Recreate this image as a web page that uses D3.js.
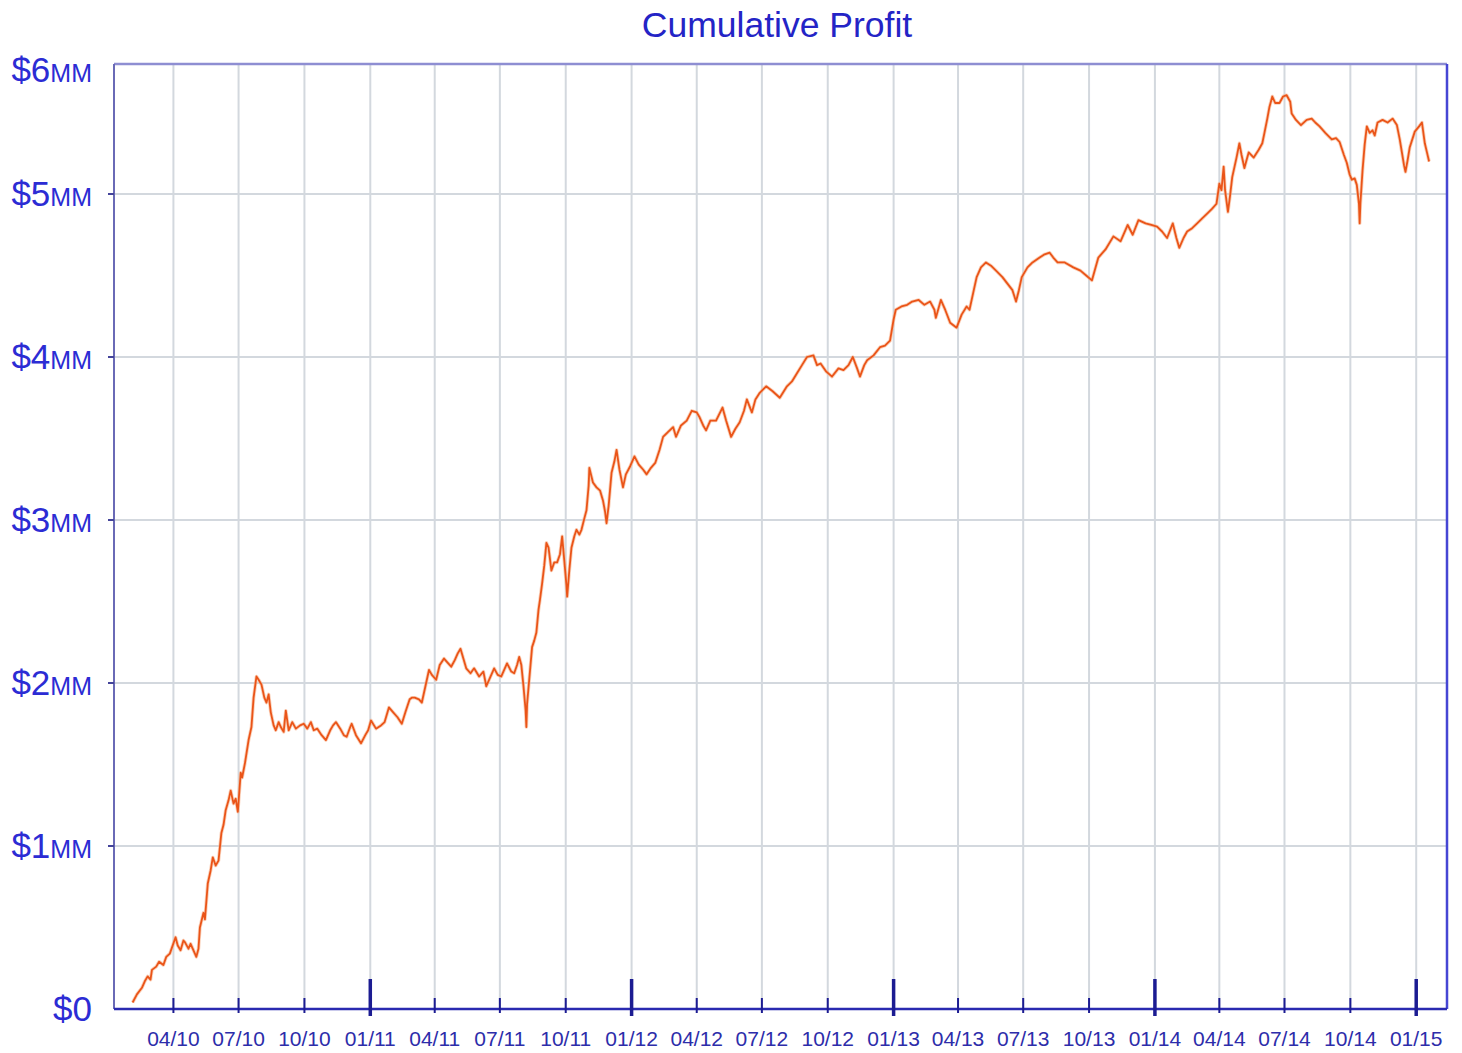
<!DOCTYPE html>
<html>
<head>
<meta charset="utf-8">
<script src="https://cdn.jsdelivr.net/npm/d3@7"></script>
<style>
  body { margin: 0; background: white; }
  svg { display: block; font-family: "Liberation Sans", Arial, Helvetica, sans-serif; }
</style>
</head>
<body>
<svg id="svg" width="1462" height="1053"></svg>
<script>
var width = 1462;
var height = 1053;

var title = "Cumulative Profit";

// y ticks in $MM
var yTicks = [0, 1, 2, 3, 4, 5, 6];
// quarterly x tick labels (mm/yy)
var xTickLabels = ["04/10", "07/10", "10/10", "01/11", "04/11", "07/11", "10/11", "01/12",
  "04/12", "07/12", "10/12", "01/13", "04/13", "07/13", "10/13", "01/14",
  "04/14", "07/14", "10/14", "01/15"];

// cumulative profit, $MM
var profit2010 = [
  ["2010-02-03",0.04],["2010-02-09",0.09],["2010-02-16",0.13],["2010-02-20",0.17],["2010-02-24",0.20],
  ["2010-02-28",0.18],["2010-03-02",0.24],["2010-03-08",0.26],["2010-03-12",0.29],["2010-03-18",0.27],
  ["2010-03-22",0.32],["2010-03-27",0.34],["2010-04-04",0.44],["2010-04-07",0.39],["2010-04-11",0.36],
  ["2010-04-15",0.42],["2010-04-17",0.41],["2010-04-22",0.37],["2010-04-25",0.40],["2010-04-29",0.36],
  ["2010-05-03",0.32],["2010-05-06",0.37],["2010-05-08",0.50],["2010-05-13",0.59],["2010-05-15",0.55],
  ["2010-05-19",0.77],["2010-05-23",0.85],["2010-05-26",0.93],["2010-05-30",0.88],["2010-06-03",0.91],
  ["2010-06-07",1.08],["2010-06-10",1.13],["2010-06-13",1.22],["2010-06-17",1.28],["2010-06-20",1.34],
  ["2010-06-24",1.26],["2010-06-27",1.29],["2010-06-30",1.21],["2010-07-04",1.45],["2010-07-06",1.42],
  ["2010-07-10",1.51],["2010-07-15",1.65],["2010-07-19",1.73],["2010-07-22",1.91],["2010-07-26",2.04],
  ["2010-07-29",2.02],["2010-08-02",1.99],["2010-08-06",1.91],["2010-08-09",1.88],["2010-08-12",1.93],
  ["2010-08-15",1.82],["2010-08-19",1.74],["2010-08-22",1.71],["2010-08-26",1.76],["2010-08-29",1.73],
  ["2010-09-02",1.70],["2010-09-05",1.83],["2010-09-09",1.71],["2010-09-14",1.76],["2010-09-19",1.72],
  ["2010-09-25",1.74],["2010-09-30",1.75],["2010-10-05",1.72],["2010-10-10",1.76],["2010-10-14",1.71],
  ["2010-10-19",1.72],["2010-10-25",1.68],["2010-10-31",1.65],["2010-11-06",1.71],["2010-11-10",1.74],
  ["2010-11-14",1.76],["2010-11-20",1.72],["2010-11-25",1.68],["2010-11-29",1.67],["2010-12-04",1.73],
  ["2010-12-06",1.75],["2010-12-12",1.68],["2010-12-19",1.63],["2010-12-25",1.68],["2010-12-29",1.71]
];
var profit2011 = [
  ["2011-01-02",1.77],["2011-01-09",1.72],["2011-01-16",1.74],["2011-01-21",1.76],["2011-01-27",1.85],
  ["2011-02-02",1.82],["2011-02-08",1.79],["2011-02-14",1.75],["2011-02-19",1.82],["2011-02-25",1.90],
  ["2011-02-28",1.91],["2011-03-04",1.91],["2011-03-10",1.90],["2011-03-14",1.88],["2011-03-18",1.96],
  ["2011-03-24",2.08],["2011-03-28",2.05],["2011-04-03",2.02],["2011-04-08",2.11],["2011-04-14",2.15],
  ["2011-04-18",2.13],["2011-04-24",2.10],["2011-04-29",2.14],["2011-05-03",2.18],["2011-05-07",2.21],
  ["2011-05-11",2.15],["2011-05-15",2.09],["2011-05-21",2.06],["2011-05-26",2.09],["2011-06-02",2.04],
  ["2011-06-08",2.07],["2011-06-12",1.98],["2011-06-17",2.03],["2011-06-23",2.09],["2011-06-28",2.05],
  ["2011-07-03",2.04],["2011-07-07",2.08],["2011-07-11",2.12],["2011-07-17",2.07],["2011-07-21",2.06],
  ["2011-07-25",2.11],["2011-07-28",2.16],["2011-07-31",2.11],["2011-08-03",1.98],["2011-08-06",1.83],
  ["2011-08-07",1.73],["2011-08-08",1.87],["2011-08-11",2.02],["2011-08-15",2.22],["2011-08-18",2.26],
  ["2011-08-21",2.31],["2011-08-24",2.45],["2011-08-26",2.51],["2011-08-29",2.61],["2011-09-01",2.72],
  ["2011-09-04",2.86],["2011-09-07",2.83],["2011-09-11",2.69],["2011-09-15",2.74],["2011-09-19",2.74],
  ["2011-09-23",2.79],["2011-09-26",2.90],["2011-09-29",2.75],["2011-10-02",2.60],["2011-10-03",2.53],
  ["2011-10-06",2.69],["2011-10-09",2.83],["2011-10-13",2.90],["2011-10-16",2.94],["2011-10-20",2.91],
  ["2011-10-23",2.94],["2011-10-27",3.01],["2011-10-30",3.06],["2011-11-02",3.21],["2011-11-03",3.32],
  ["2011-11-08",3.23],["2011-11-13",3.20],["2011-11-18",3.18],["2011-11-22",3.12],["2011-11-25",3.05],
  ["2011-11-27",2.98],["2011-11-30",3.09],["2011-12-04",3.29],["2011-12-08",3.36],["2011-12-11",3.43],
  ["2011-12-15",3.31],["2011-12-20",3.20],["2011-12-24",3.28],["2011-12-30",3.33]
];
var profit2012 = [
  ["2012-01-05",3.39],["2012-01-11",3.34],["2012-01-17",3.31],["2012-01-22",3.28],["2012-01-28",3.32],
  ["2012-02-03",3.35],["2012-02-09",3.43],["2012-02-14",3.51],["2012-02-21",3.54],["2012-02-28",3.57],
  ["2012-03-03",3.51],["2012-03-10",3.58],["2012-03-18",3.61],["2012-03-25",3.67],["2012-04-01",3.66],
  ["2012-04-05",3.63],["2012-04-10",3.58],["2012-04-14",3.55],["2012-04-20",3.61],["2012-04-28",3.61],
  ["2012-05-07",3.69],["2012-05-12",3.61],["2012-05-19",3.51],["2012-05-25",3.56],["2012-05-31",3.60],
  ["2012-06-06",3.67],["2012-06-10",3.74],["2012-06-17",3.66],["2012-06-22",3.74],["2012-06-28",3.78],
  ["2012-07-07",3.82],["2012-07-16",3.79],["2012-07-26",3.75],["2012-08-05",3.82],["2012-08-12",3.85],
  ["2012-08-19",3.90],["2012-08-26",3.95],["2012-09-02",4.00],["2012-09-11",4.01],["2012-09-16",3.95],
  ["2012-09-21",3.96],["2012-09-29",3.91],["2012-10-07",3.88],["2012-10-16",3.93],["2012-10-23",3.92],
  ["2012-10-30",3.95],["2012-11-05",4.00],["2012-11-11",3.93],["2012-11-15",3.88],["2012-11-21",3.95],
  ["2012-11-25",3.98],["2012-12-04",4.01],["2012-12-13",4.06],["2012-12-20",4.07],["2012-12-27",4.10]
];
var profit2013 = [
  ["2013-01-01",4.23],["2013-01-04",4.29],["2013-01-12",4.31],["2013-01-20",4.32],["2013-01-27",4.34],
  ["2013-02-05",4.35],["2013-02-13",4.32],["2013-02-21",4.34],["2013-02-27",4.29],["2013-03-01",4.24],
  ["2013-03-08",4.35],["2013-03-14",4.29],["2013-03-21",4.21],["2013-03-30",4.18],["2013-04-06",4.26],
  ["2013-04-13",4.31],["2013-04-17",4.29],["2013-04-23",4.41],["2013-04-27",4.49],["2013-05-03",4.55],
  ["2013-05-10",4.58],["2013-05-17",4.56],["2013-05-24",4.53],["2013-06-02",4.49],["2013-06-09",4.45],
  ["2013-06-16",4.41],["2013-06-21",4.34],["2013-06-25",4.41],["2013-06-29",4.49],["2013-07-07",4.55],
  ["2013-07-14",4.58],["2013-07-24",4.61],["2013-07-31",4.63],["2013-08-07",4.64],["2013-08-12",4.61],
  ["2013-08-18",4.58],["2013-08-28",4.58],["2013-09-09",4.55],["2013-09-19",4.53],["2013-09-27",4.50],
  ["2013-10-05",4.47],["2013-10-14",4.61],["2013-10-24",4.66],["2013-11-04",4.74],["2013-11-14",4.71],
  ["2013-11-24",4.81],["2013-12-01",4.75],["2013-12-09",4.84],["2013-12-19",4.82],["2013-12-27",4.81]
];
var profit2014 = [
  ["2014-01-04",4.80],["2014-01-11",4.77],["2014-01-18",4.73],["2014-01-26",4.82],["2014-01-31",4.73],
  ["2014-02-04",4.67],["2014-02-10",4.73],["2014-02-15",4.77],["2014-02-22",4.79],["2014-03-01",4.82],
  ["2014-03-08",4.85],["2014-03-15",4.88],["2014-03-22",4.91],["2014-03-28",4.94],["2014-04-01",5.08],
  ["2014-04-04",5.03],["2014-04-07",5.21],["2014-04-09",5.03],["2014-04-13",4.89],["2014-04-16",4.99],
  ["2014-04-19",5.13],["2014-04-25",5.28],["2014-04-29",5.39],["2014-05-02",5.30],["2014-05-06",5.20],
  ["2014-05-10",5.28],["2014-05-12",5.32],["2014-05-19",5.28],["2014-05-26",5.34],["2014-05-31",5.39],
  ["2014-06-03",5.47],["2014-06-07",5.58],["2014-06-10",5.67],["2014-06-14",5.75],["2014-06-18",5.70],
  ["2014-06-24",5.70],["2014-06-29",5.75],["2014-07-04",5.76],["2014-07-09",5.71],["2014-07-11",5.62],
  ["2014-07-17",5.57],["2014-07-24",5.53],["2014-08-01",5.57],["2014-08-08",5.58],["2014-08-13",5.55],
  ["2014-08-19",5.52],["2014-08-27",5.47],["2014-09-05",5.42],["2014-09-11",5.43],["2014-09-16",5.40],
  ["2014-09-22",5.30],["2014-09-26",5.24],["2014-09-30",5.15],["2014-10-03",5.11],["2014-10-07",5.12],
  ["2014-10-10",5.07],["2014-10-13",4.94],["2014-10-14",4.82],["2014-10-15",4.94],["2014-10-18",5.18],
  ["2014-10-21",5.38],["2014-10-24",5.52],["2014-10-28",5.47],["2014-11-01",5.49],["2014-11-04",5.45],
  ["2014-11-08",5.55],["2014-11-15",5.57],["2014-11-22",5.55],["2014-11-29",5.58],["2014-12-05",5.53],
  ["2014-12-09",5.42],["2014-12-12",5.32],["2014-12-15",5.22],["2014-12-17",5.17],["2014-12-20",5.26],
  ["2014-12-23",5.36],["2014-12-30",5.48]
];
var profit2015 = [
  ["2015-01-05",5.52],["2015-01-09",5.55],["2015-01-13",5.39],["2015-01-16",5.32],["2015-01-19",5.25]
];

var parseDay = d3.timeParse("%Y-%m-%d");
var parseTick = d3.timeParse("%m/%y");

var series = [].concat(profit2010, profit2011, profit2012, profit2013, profit2014, profit2015)
  .map(function(d){ return {date: parseDay(d[0]), value: d[1]}; });

// plot box (note: "top" is reserved on window, so prefix everything)
var plotLeft = 114, plotRight = 1447, plotTop = 64, plotBottom = 1009;

var x = d3.scaleTime()
  .domain([parseDay("2010-01-08"), parseDay("2015-02-13")])
  .range([plotLeft, plotRight]);

// the top band of the original is squeezed: $5MM-$6MM is shorter than the others
var y = d3.scaleLinear()
  .domain([0, 5, 6])
  .range([plotBottom, 194, plotTop]);

const svg = d3.select('#svg');

var gridColor = "#d3d8de";
var tickDates = xTickLabels.map(function(t){ return parseTick(t); });
var innerTicks = yTicks.filter(function(v){ return v > 0 && v < 6; });

// vertical grid
svg.append("g").selectAll("line")
  .data(tickDates)
  .enter().append("line")
  .attr("x1", function(d){ return x(d); })
  .attr("x2", function(d){ return x(d); })
  .attr("y1", plotTop)
  .attr("y2", plotBottom)
  .style("stroke", gridColor)
  .style("stroke-width", 2);

// horizontal grid
svg.append("g").selectAll("line")
  .data(innerTicks)
  .enter().append("line")
  .attr("x1", plotLeft)
  .attr("x2", plotRight)
  .attr("y1", function(d){ return y(d); })
  .attr("y2", function(d){ return y(d); })
  .style("stroke", gridColor)
  .style("stroke-width", 2);

// frame
svg.append("line").attr("x1", plotLeft).attr("x2", plotRight).attr("y1", plotTop).attr("y2", plotTop)
  .style("stroke", "#8e8ed2").style("stroke-width", 2.5);
svg.append("line").attr("x1", plotLeft).attr("x2", plotLeft).attr("y1", plotTop).attr("y2", plotBottom)
  .style("stroke", "#6a6ab6").style("stroke-width", 2);
svg.append("line").attr("x1", plotRight).attr("x2", plotRight).attr("y1", plotTop).attr("y2", plotBottom)
  .style("stroke", "#4646d4").style("stroke-width", 2.5);

// the curve
var line = d3.line()
  .x(function(d){ return x(d.date); })
  .y(function(d){ return y(d.value); });

svg.append("path")
  .datum(series)
  .attr("d", line)
  .style("fill", "none")
  .style("stroke", "#f7b08a")
  .style("stroke-width", 3.5)
  .style("stroke-linejoin", "round")
  .style("opacity", 0.6);

svg.append("path")
  .datum(series)
  .attr("d", line)
  .style("fill", "none")
  .style("stroke", "#ea5418")
  .style("stroke-width", 1.8)
  .style("stroke-linejoin", "round");

// x axis line
svg.append("line").attr("x1", plotLeft).attr("x2", plotRight).attr("y1", plotBottom).attr("y2", plotBottom)
  .style("stroke", "#2a2ab0").style("stroke-width", 2.5);

// x ticks: januaries are taller
svg.append("g").selectAll("line")
  .data(tickDates)
  .enter().append("line")
  .attr("x1", function(d){ return x(d); })
  .attr("x2", function(d){ return x(d); })
  .attr("y1", function(d){ return d.getMonth() == 0 ? plotBottom - 30 : plotBottom - 11; })
  .attr("y2", function(d){ return d.getMonth() == 0 ? plotBottom + 7 : plotBottom + 4; })
  .style("stroke", "#1c1c92")
  .style("stroke-width", function(d){ return d.getMonth() == 0 ? 3.5 : 2; });

svg.append("g").selectAll("text")
  .data(xTickLabels)
  .enter().append("text")
  .attr("x", function(d){ return x(parseTick(d)); })
  .attr("y", 1046)
  .attr("text-anchor", "middle")
  .style("font-size", "21px")
  .style("fill", "#2d2daa")
  .text(function(d){ return d; });

// y ticks
svg.append("g").selectAll("line")
  .data(innerTicks)
  .enter().append("line")
  .attr("x1", plotLeft - 6)
  .attr("x2", plotLeft)
  .attr("y1", function(d){ return y(d); })
  .attr("y2", function(d){ return y(d); })
  .style("stroke", "#44449a")
  .style("stroke-width", 2);

var yLab = svg.append("g").selectAll("text")
  .data(yTicks)
  .enter().append("text")
  .attr("x", 92)
  .attr("y", function(d){ return y(d) + (d == 6 ? 18 : 12); })
  .attr("text-anchor", "end")
  .style("fill", "#2c2cd4");

yLab.append("tspan")
  .style("font-size", "35px")
  .text(function(d){ return "$" + d; });
yLab.append("tspan")
  .style("font-size", "25px")
  .text(function(d){ return d == 0 ? "" : "MM"; });

// title
svg.append("text")
  .attr("x", 777)
  .attr("y", 37)
  .attr("text-anchor", "middle")
  .style("font-size", "35.5px")
  .style("fill", "#2424c6")
  .text(title);
</script>
</body>
</html>
